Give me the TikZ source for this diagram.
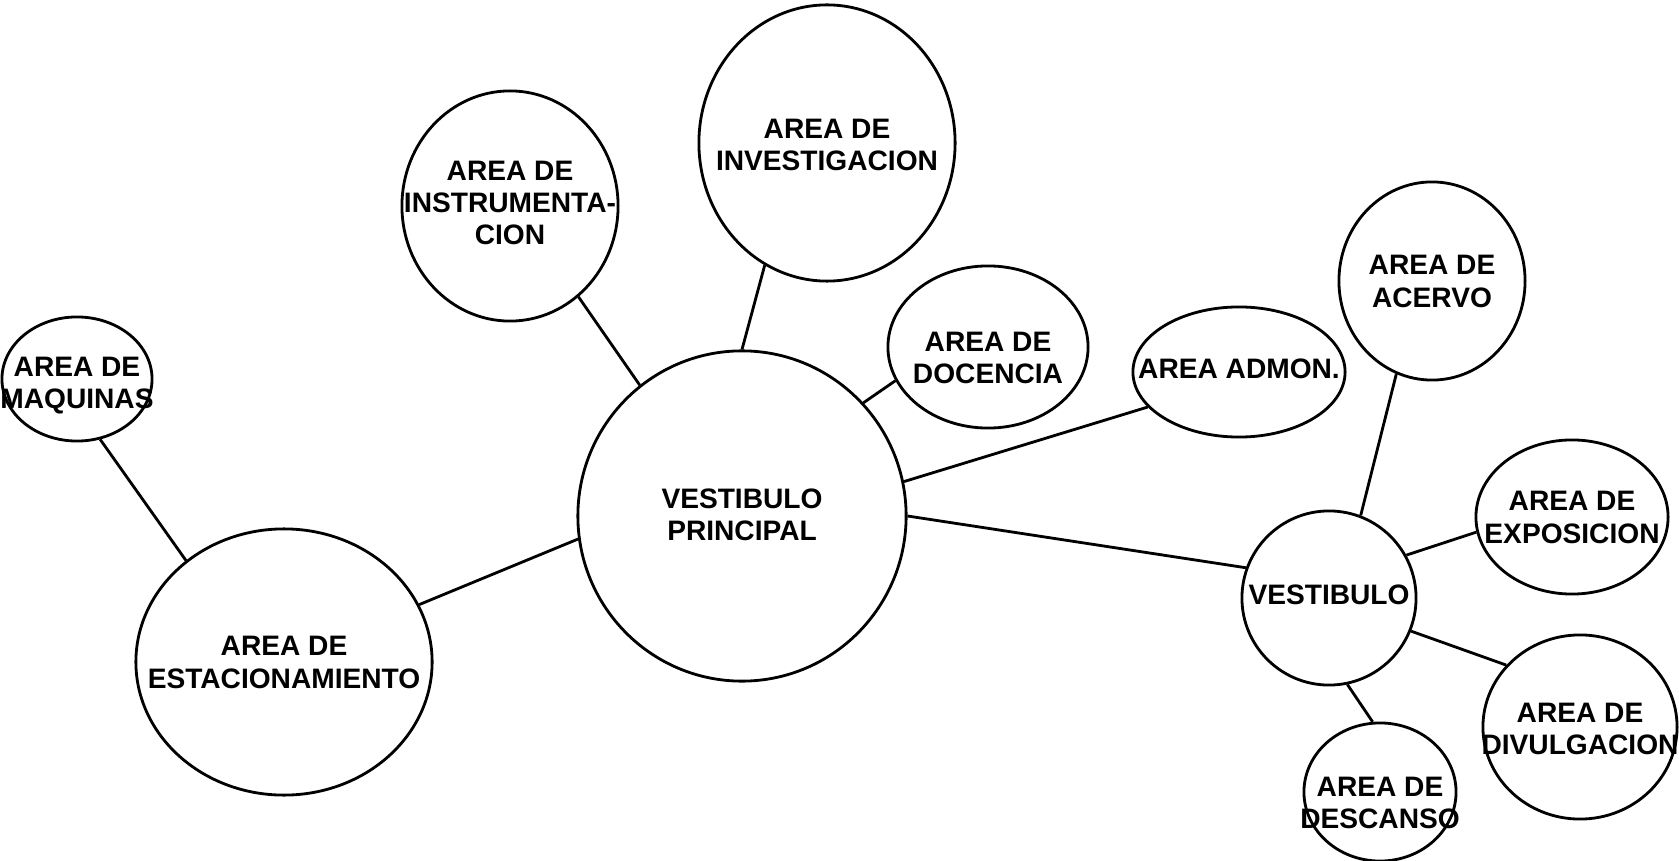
\documentclass[tikz,border=0pt]{standalone}
\usepackage{fontspec}
\setmainfont{Liberation Sans}
\usepackage{tikz}
\usetikzlibrary{shapes.geometric}

\newcommand{\bubbletxt}[2][0pt]{\raisebox{\dimexpr-2pt-#1\relax}[0pt][0pt]{\makebox[0pt]{\begin{tabular}{@{}c@{}}#2\end{tabular}}}}

\begin{document}
\begin{tikzpicture}[
    x=0.01cm, y=-0.01cm,
    every node/.style={ellipse, draw, line width=0.8pt, inner sep=0pt, font=\fontsize{8}{9.2}\selectfont\bfseries},
    bubble/.style 2 args={minimum width=#1*0.02cm, minimum height=#2*0.02cm},
    link/.style={line width=0.8pt}
  ]
  \useasboundingbox (0,0) rectangle (1679,861);
  \node[bubble={75}{62}]   (maq)    at (77,379)   {\bubbletxt[2pt]{AREA DE\\MAQUINAS}};
  \node[bubble={148}{133}] (estac)  at (284,662)  {\bubbletxt[1pt]{AREA DE\\ESTACIONAMIENTO}};
  \node[bubble={164}{165}] (vp)     at (742,516)  {\bubbletxt[0.5pt]{VESTIBULO\\PRINCIPAL}};
  \node[bubble={108}{115}] (instr)  at (510,206)  {\bubbletxt{AREA DE\\INSTRUMENTA-\\CION}};
  \node[bubble={128}{138}] (invest) at (827,143)  {\bubbletxt[1.5pt]{AREA DE\\INVESTIGACION}};
  \node[bubble={100}{81}]  (doc)    at (988,347)  {\bubbletxt[4pt]{AREA DE\\DOCENCIA}};
  \node[bubble={106}{65}]  (admon)  at (1239,372) {\bubbletxt{AREA ADMON.}};
  \node[bubble={87}{87}]   (vest)   at (1329,598) {\bubbletxt{VESTIBULO}};
  \node[bubble={93}{99}]   (acervo) at (1432,281) {\bubbletxt[1pt]{AREA DE\\ACERVO}};
  \node[bubble={96}{77}]   (expos)  at (1572,517) {\bubbletxt[1pt]{AREA DE\\EXPOSICION}};
  \node[bubble={97}{92}]   (divulg) at (1580,727) {\bubbletxt[1.5pt]{AREA DE\\DIVULGACION}};
  \node[bubble={76}{69}]   (desc)   at (1380,792) {\bubbletxt[4pt]{AREA DE\\DESCANSO}};

  \draw[link] (maq.-69) -- (estac.134);
  \draw[link] (estac.23) -- (vp.188);
  \draw[link] (vp.128) -- (instr.-53);
  \draw[link] (vp.90) -- (invest.243);
  \draw[link] (vp.43) -- (doc.200);
  \draw[link] (vp.12) -- (admon.201);
  \draw[link] (vp.0) -- (vest.160);
  \draw[link] (vest.69) -- (acervo.249);
  \draw[link] (vest.29) -- (expos.189);
  \draw[link] (vest.-22) -- (divulg.140);
  \draw[link] (vest.-78) -- (desc.96);
\end{tikzpicture}
\end{document}
